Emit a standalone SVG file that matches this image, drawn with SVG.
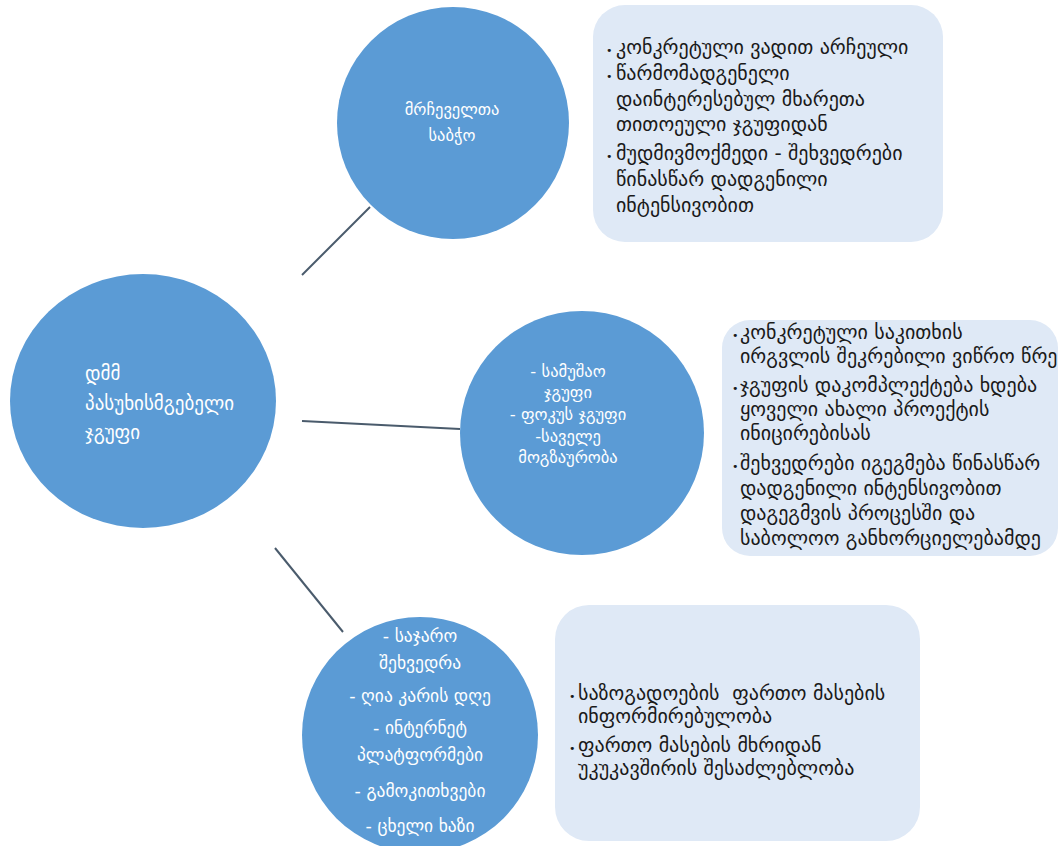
<svg xmlns="http://www.w3.org/2000/svg" width="1060" height="846" viewBox="0 0 1060 846">
<style>
.circ{fill:#5b9bd5}
.box{fill:#dfe9f6}
.ct{font-family:"DejaVu Sans",sans-serif;font-size:16.5px;fill:#ffffff}
.ctb{font-family:"DejaVu Sans",sans-serif;font-size:17.5px;fill:#ffffff}
.ctl{font-family:"DejaVu Sans",sans-serif;font-size:19px;fill:#ffffff}
.bt{font-family:"DejaVu Sans",sans-serif;font-size:20px;fill:#1a1a1a}
.bul{font-size:11px}
.conn line{stroke:#4a5b6c;stroke-width:2}
</style>
<rect width="1060" height="846" fill="#ffffff"/>
<g id="connectors" class="conn">
<line x1="302" y1="275" x2="370" y2="207"/>
<line x1="302" y1="421" x2="460" y2="429"/>
<line x1="275" y1="548" x2="343" y2="632"/>
</g>
<g id="node-main">
<ellipse class="circ" cx="143" cy="401" rx="133" ry="127"/>
<text class="ctl"><tspan x="85" y="380">დმმ</tspan><tspan x="85" y="410">პასუხისმგებელი</tspan><tspan x="85" y="439">ჯგუფი</tspan></text>
</g>
<g id="node-council">
<circle class="circ" cx="453" cy="123" r="116"/>
<text class="ct" text-anchor="middle"><tspan x="452" y="115">მრჩეველთა</tspan><tspan x="452" y="141">საბჭო</tspan></text>
</g>
<g id="box-council">
<rect class="box" x="593" y="5" width="350" height="237" rx="32"/>
<text class="bt"><tspan x="606" y="54" class="bul">•</tspan><tspan x="616" y="54">კონკრეტული ვადით არჩეული</tspan><tspan x="606" y="80" class="bul">•</tspan><tspan x="616" y="80">წარმომადგენელი</tspan><tspan x="616" y="106">დაინტერესებულ მხარეთა</tspan><tspan x="616" y="131">თითოეული ჯგუფიდან</tspan><tspan x="606" y="160" class="bul">•</tspan><tspan x="616" y="160">მუდმივმოქმედი - შეხვედრები</tspan><tspan x="616" y="186">წინასწარ დადგენილი</tspan><tspan x="616" y="212">ინტენსივობით</tspan></text>
</g>
<g id="node-working">
<circle class="circ" cx="582" cy="433" r="122"/>
<text class="ct" text-anchor="middle"><tspan x="568" y="377">- სამუშაო</tspan><tspan x="568" y="398">ჯგუფი</tspan><tspan x="568" y="420">- ფოკუს ჯგუფი</tspan><tspan x="568" y="442">-საველე</tspan><tspan x="568" y="463">მოგზაურობა</tspan></text>
</g>
<g id="box-working">
<rect class="box" x="722" y="320" width="336" height="236" rx="28"/>
<text class="bt"><tspan x="732" y="339" class="bul">•</tspan><tspan x="740" y="339">კონკრეტული საკითხის</tspan><tspan x="740" y="363">ირგვლის შეკრებილი ვიწრო წრე</tspan><tspan x="732" y="392" class="bul">•</tspan><tspan x="740" y="392">ჯგუფის დაკომპლექტება ხდება</tspan><tspan x="740" y="416">ყოველი ახალი პროექტის</tspan><tspan x="740" y="440">ინიცირებისას</tspan><tspan x="732" y="470" class="bul">•</tspan><tspan x="740" y="470">შეხვედრები იგეგმება წინასწარ</tspan><tspan x="740" y="495">დადგენილი ინტენსივობით</tspan><tspan x="740" y="520">დაგეგმვის პროცესში და</tspan><tspan x="740" y="545">საბოლოო განხორციელებამდე</tspan></text>
</g>
<g id="node-public">
<circle class="circ" cx="420" cy="735" r="118"/>
<text class="ctb" text-anchor="middle"><tspan x="420" y="642">- საჯარო</tspan><tspan x="420" y="669">შეხვედრა</tspan><tspan x="420" y="702">- ღია კარის დღე</tspan><tspan x="420" y="734">- ინტერნეტ</tspan><tspan x="420" y="761">პლატფორმები</tspan><tspan x="420" y="797">- გამოკითხვები</tspan><tspan x="420" y="832">- ცხელი ხაზი</tspan></text>
</g>
<g id="box-public">
<rect class="box" x="555" y="605" width="365" height="236" rx="34"/>
<text class="bt" xml:space="preserve"><tspan x="569" y="700" class="bul">•</tspan><tspan x="578" y="700">საზოგადოების  ფართო მასების</tspan><tspan x="578" y="723">ინფორმირებულობა</tspan><tspan x="569" y="752" class="bul">•</tspan><tspan x="578" y="752">ფართო მასების მხრიდან</tspan><tspan x="578" y="775">უკუკავშირის შესაძლებლობა</tspan></text>
</g>
</svg>
